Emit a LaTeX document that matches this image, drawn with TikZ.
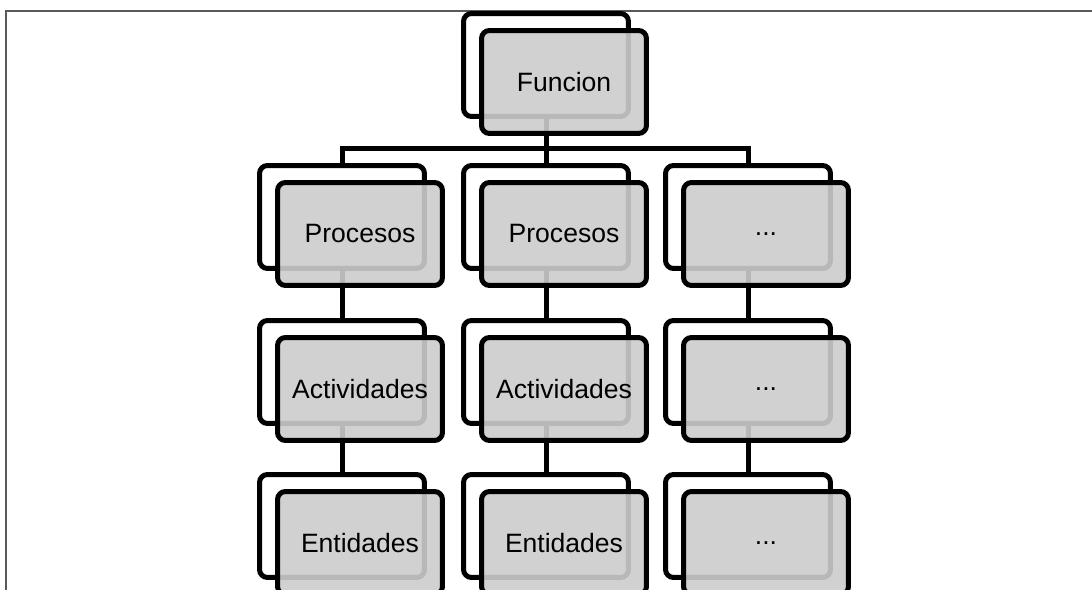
\documentclass[tikz,border=0pt]{standalone}
\usepackage{fontspec}
\setmainfont{Liberation Sans}
\definecolor{boxgray}{gray}{0.8}
\definecolor{framegray}{gray}{0.35}

\begin{document}
\begin{tikzpicture}[x=0.02cm,y=-0.02cm,
	back/.style={draw,fill=white,rounded corners=0.16cm,line width=0.1cm,minimum width=3.3cm,minimum height=2.06cm,inner sep=0},
	front/.style={back,fill=boxgray,fill opacity=0.9,text opacity=1,font=\fontsize{15.1}{18}\selectfont},
	link/.style={line width=0.1cm}]
	\useasboundingbox (0,0) rectangle (1092,590);
	\clip (0,0) rectangle (1092,590);
	\draw[framegray,line width=0.6pt] (6,590) -- (6,11) -- (1092,11);
	% back boxes
	\node[back] (0) at (546,65) {};
	\node[back] (1) at (342,217) {};
	\node[back] (2) at (546,217) {};
	\node[back] (3) at (748,217) {};
	\node[back] (4) at (342,372) {};
	\node[back] (5) at (546,372) {};
	\node[back] (6) at (748,372) {};
	\node[back] (7) at (342,526) {};
	\node[back] (8) at (546,526) {};
	\node[back] (9) at (748,526) {};
	% connectors
	\coordinate (bar) at (546,149);
	\draw[link] (0.south) -- (bar);
	\draw[link] (1.north) |- (bar) -| (3.north);
	\draw[link] (bar) -- (2.north);
	\draw[link] (1.south) -- (4.north);
	\draw[link] (2.south) -- (5.north);
	\draw[link] (3.south) -- (6.north);
	\draw[link] (4.south) -- (7.north);
	\draw[link] (5.south) -- (8.north);
	\draw[link] (6.south) -- (9.north);
	% front boxes
	\node[front] (0f) at (564,82) {Funcion};
	\node[front] (1f) at (360,234) {Procesos};
	\node[front] (2f) at (564,234) {Procesos};
	\node[front] (3f) at (766,234) {...};
	\node[front] (4f) at (360,389) {Actividades};
	\node[front] (5f) at (564,389) {Actividades};
	\node[front] (6f) at (766,389) {...};
	\node[front] (7f) at (360,543) {Entidades};
	\node[front] (8f) at (564,543) {Entidades};
	\node[front] (9f) at (766,543) {...};
\end{tikzpicture}
\end{document}
